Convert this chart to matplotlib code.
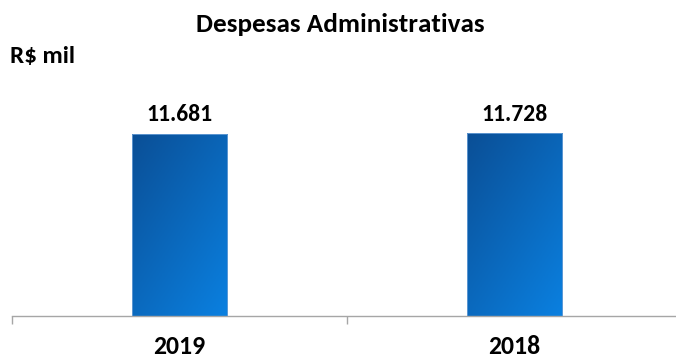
import numpy as np
import matplotlib.pyplot as plt
from matplotlib.colors import LinearSegmentedColormap

# Dados (R$ mil)
categories = ["2019", "2018"]
values = [11681, 11728]
value_labels = ["11.681", "11.728"]

FONT = ["Carlito", "DejaVu Sans"]

fig = plt.figure(figsize=(6.76, 3.6), dpi=100)
ax = fig.add_axes([12 / 676, 44 / 360, 670 / 676, 234 / 360])

x = np.arange(len(categories))
width = 0.285
bars = ax.bar(x, values, width=width, color="none", edgecolor="none")

ax.set_xlim(-0.5, len(categories) - 0.5)
ax.set_ylim(0, 15000)

# gradient fill: dark blue top-left -> bright blue bottom-right
cmap = LinearSegmentedColormap.from_list("blu", ["#0b4f96", "#0a80e0"])
gx, gy = np.meshgrid(np.linspace(0, 1, 64), np.linspace(0, 1, 64))
grad = 0.45 * gx + 0.55 * gy
for b in bars:
    x0, y0 = b.get_x(), b.get_y()
    w, h = b.get_width(), b.get_height()
    im = ax.imshow(grad, cmap=cmap, extent=[x0, x0 + w, y0, y0 + h],
                   origin="upper", aspect="auto", zorder=2)
    im.set_clip_path(b)
    ax.add_patch(plt.Rectangle((x0, y0), w, h, fill=False,
                               edgecolor="#6a9fd6", lw=0.6, zorder=3))

for xi, v, lab in zip(x, values, value_labels):
    ax.annotate(lab, (xi, v), xytext=(0, 9), textcoords="offset points",
                ha="center", va="baseline", fontsize=17, fontweight="bold",
                family=FONT)

for s in ["top", "right", "left"]:
    ax.spines[s].set_visible(False)
ax.spines["bottom"].set_color("#a6a6a6")
ax.spines["bottom"].set_linewidth(1.0)
ax.set_yticks([])
ax.set_xticks([-0.5, 0.5, 1.5], minor=False)
ax.set_xticklabels([])
ax.tick_params(axis="x", length=6, color="#a6a6a6", width=1.0)
for xi, c in zip(x, categories):
    ax.annotate(c, (xi, 0), xytext=(0, -27.5), textcoords="offset points",
                ha="center", va="baseline", fontsize=18.5, fontweight="bold",
                family=FONT)

fig.text(340 / 676, 1 - 32 / 360, "Despesas Administrativas", ha="center",
         va="baseline", fontsize=19.5, fontweight="bold", family=FONT)
fig.text(10 / 676, 1 - 63 / 360, "R$ mil", ha="left", va="baseline",
         fontsize=18, fontweight="bold", family=FONT)

fig.savefig("out.png", dpi=100)
